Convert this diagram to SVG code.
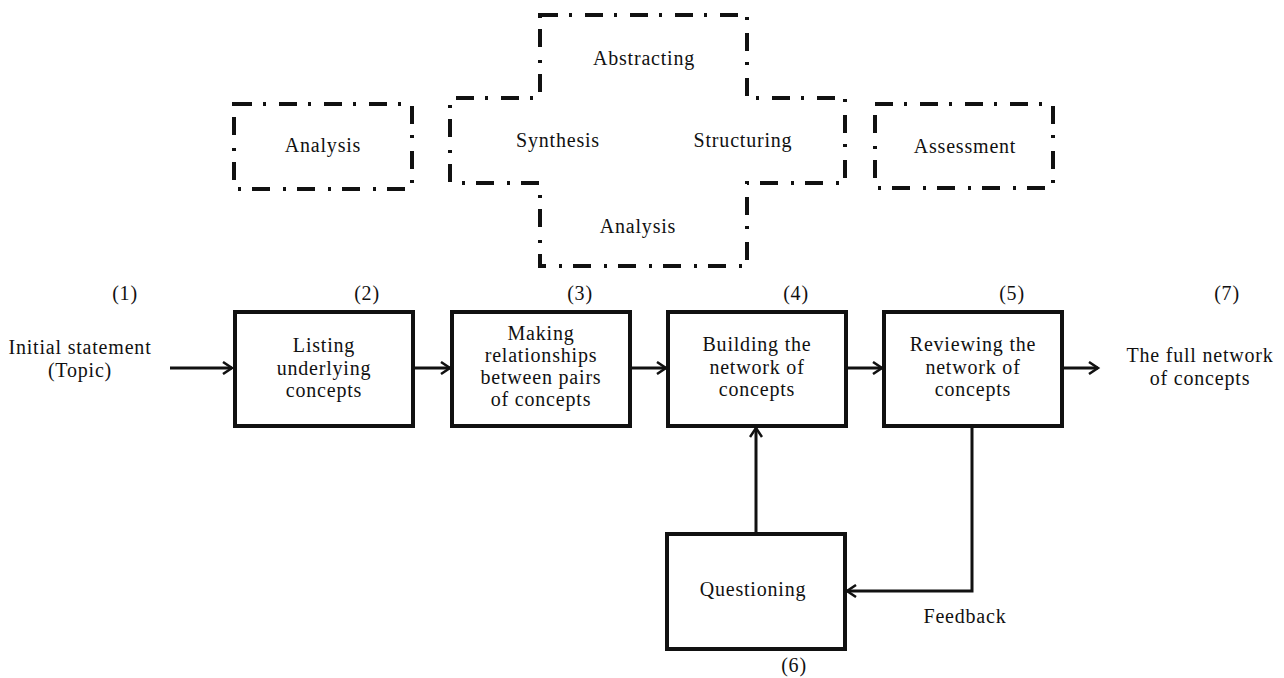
<svg xmlns="http://www.w3.org/2000/svg" width="1284" height="678" viewBox="0 0 1284 678">
<style>
text{font-family:"Liberation Serif","Times New Roman",serif;font-size:20px;letter-spacing:0.8px;fill:#111;text-anchor:middle}
.box{fill:#fff;stroke:#111;stroke-width:4}
.dash{fill:none;stroke:#111;stroke-width:4;stroke-dasharray:18 11 3 13}
.con{fill:none;stroke:#111;stroke-width:3}
</style>
<defs>
<marker id="ah" markerWidth="14" markerHeight="14" refX="11" refY="7" orient="auto" markerUnits="userSpaceOnUse">
<path d="M2,1 L11,7 L2,13" fill="none" stroke="#111" stroke-width="2.5"/>
</marker>
</defs>
<rect width="1284" height="678" fill="#fff"/>

<g id="top-analysis"><rect class="dash" x="234" y="104" width="178" height="85"/><text x="323" y="152">Analysis</text></g>
<g id="cross">
<path class="dash" d="M540,15 L747,15 L747,98 L845,98 L845,183 L747,183 L747,266 L540,266 L540,183 L450,183 L450,98 L540,98 Z"/>
<text x="644" y="65">Abstracting</text>
<text x="558" y="147">Synthesis</text>
<text x="743" y="147">Structuring</text>
<text x="638" y="233">Analysis</text>
</g>
<g id="assessment"><rect class="dash" x="875" y="104" width="178" height="84"/><text x="965" y="153">Assessment</text></g>

<g id="labels">
<text x="125" y="300">(1)</text>
<text x="367" y="300">(2)</text>
<text x="580" y="300">(3)</text>
<text x="796" y="300">(4)</text>
<text x="1012" y="300">(5)</text>
<text x="1227" y="300">(7)</text>
<text x="794" y="672">(6)</text>
<text x="965" y="623">Feedback</text>
</g>

<g id="start"><text x="80" y="354">Initial statement</text><text x="80" y="377">(Topic)</text></g>
<g id="n2"><rect class="box" x="235" y="312" width="178" height="114"/><text x="324" y="352">Listing</text><text x="324" y="375">underlying</text><text x="324" y="397">concepts</text></g>
<g id="n3"><rect class="box" x="452" y="312" width="178" height="114"/><text x="541" y="340">Making</text><text x="541" y="362">relationships</text><text x="541" y="384">between pairs</text><text x="541" y="406">of concepts</text></g>
<g id="n4"><rect class="box" x="668" y="312" width="178" height="114"/><text x="757" y="351">Building the</text><text x="757" y="374">network of</text><text x="757" y="396">concepts</text></g>
<g id="n5"><rect class="box" x="884" y="312" width="178" height="114"/><text x="973" y="351">Reviewing the</text><text x="973" y="374">network of</text><text x="973" y="396">concepts</text></g>
<g id="end"><text x="1200" y="362">The full network</text><text x="1200" y="385">of concepts</text></g>
<g id="n6"><rect class="box" x="667" y="534" width="178" height="115"/><text x="753" y="596">Questioning</text></g>

<g id="connectors">
<path class="con" d="M170,368 L232,368" marker-end="url(#ah)"/>
<path class="con" d="M413,368 L450,368" marker-end="url(#ah)"/>
<path class="con" d="M630,368 L666,368" marker-end="url(#ah)"/>
<path class="con" d="M846,368 L882,368" marker-end="url(#ah)"/>
<path class="con" d="M1062,368 L1098,368" marker-end="url(#ah)"/>
<path class="con" d="M756,534 L756,428" marker-end="url(#ah)"/>
<path class="con" d="M972,426 L972,591 L847,591" marker-end="url(#ah)"/>
</g>
</svg>
